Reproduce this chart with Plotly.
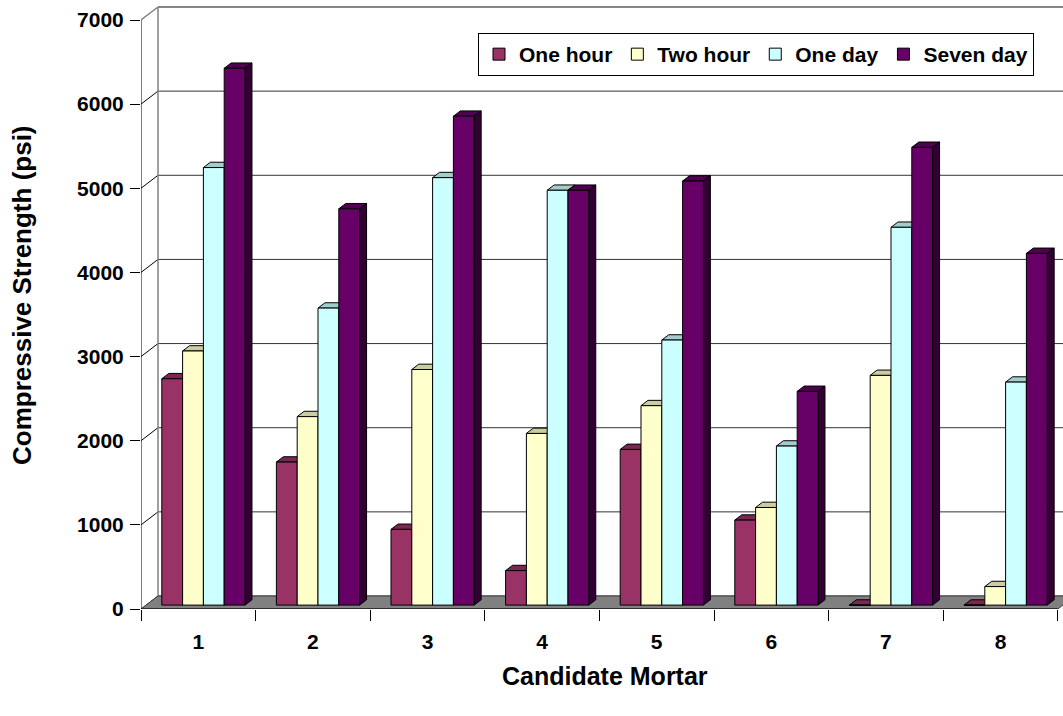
import plotly.graph_objects as go

# ---- data -------------------------------------------------------------
mortars = [1, 2, 3, 4, 5, 6, 7, 8]
series_names = ["One hour", "Two hour", "One day", "Seven day"]
one_hour = [2690, 1700, 900, 410, 1850, 1010, 0, 0]
two_hour = [3020, 2240, 2800, 2040, 2370, 1160, 2730, 220]
one_day = [5200, 3530, 5080, 4930, 3150, 1890, 4490, 2650]
seven_day = [6380, 4710, 5810, 4930, 5040, 2540, 5440, 4180]
y_ticks = [0, 1000, 2000, 3000, 4000, 5000, 6000, 7000]

series_values = [one_hour, two_hour, one_day, seven_day]
front_colors = ["#993366", "#FFFFCC", "#CCFFFF", "#660066"]

# ---- geometry of the pseudo-3D box -----------------------------------
FIG_W, FIG_H = 1063, 716
M_L, M_R, M_T, M_B = 141, 0, 5, 107
PLOT_W = FIG_W - M_L - M_R
PLOT_H = FIG_H - M_T - M_B
PX_PER_CAT = 114.6               # pixels per category
PX_PER_PSI = 589.0 / 7000.0      # pixels per psi
X_RANGE = [0.5, 0.5 + PLOT_W / PX_PER_CAT]
Y_RANGE = [0, PLOT_H / PX_PER_PSI]

WALL_DX = 17 / PX_PER_CAT        # depth of the box, in x units
WALL_DY = 13 / PX_PER_PSI        # depth of the box, in y units
BAR_Z0 = 0.30                    # depth fraction of the bar fronts
BAR_DEPTH = 0.41                 # depth of each bar, as fraction of box
BAR_W = 20.8 / PX_PER_CAT

BASE = BAR_Z0 * WALL_DY
SHIFT = BAR_Z0 * WALL_DX
BDX = BAR_DEPTH * WALL_DX
BDY = BAR_DEPTH * WALL_DY

FONT = "Liberation Sans, Arial, sans-serif"


def shade(hex_color, f):
    h = hex_color.lstrip("#")
    r, g, b = (int(h[i:i + 2], 16) for i in (0, 2, 4))
    return "#%02x%02x%02x" % (int(r * f), int(g * f), int(b * f))


fig = go.Figure()

# ---- tops and sides of the bars (painted back-to-front per group) ----
for k, (name, vals, col) in enumerate(zip(series_names, series_values, front_colors)):
    tx, ty, sx, sy = [], [], [], []
    for c, v in zip(mortars, vals):
        left = c - 2 * BAR_W + k * BAR_W + SHIFT
        right = left + BAR_W
        top = BASE + v
        tx += [left, right, right + BDX, left + BDX, left, None]
        ty += [top, top, top + BDY, top + BDY, top, None]
        sx += [right, right + BDX, right + BDX, right, right, None]
        sy += [BASE, BASE + BDY, top + BDY, top, BASE, None]
    fig.add_trace(go.Scatter(x=tx, y=ty, mode="lines", fill="toself",
                             fillcolor=shade(col, 0.8),
                             line=dict(color="black", width=1),
                             hoverinfo="skip", showlegend=False))
    fig.add_trace(go.Scatter(x=sx, y=sy, mode="lines", fill="toself",
                             fillcolor=shade(col, 0.5),
                             line=dict(color="black", width=1),
                             hoverinfo="skip", showlegend=False))

# ---- bar fronts (on an overlay axis so they sit above tops/sides) ----
for k, (name, vals, col) in enumerate(zip(series_names, series_values, front_colors)):
    fig.add_trace(go.Bar(
        x=mortars, y=vals, base=BASE, name=name,
        width=BAR_W, offset=-2 * BAR_W + k * BAR_W + SHIFT,
        marker=dict(color=col, line=dict(color="black", width=1)),
        xaxis="x2", yaxis="y2",
    ))

# ---- walls, floor and grid --------------------------------------------
shapes = []
x_back = X_RANGE[0] + WALL_DX
for t in y_ticks:
    # gridline on the back wall
    shapes.append(dict(type="line", xref="x", yref="y", layer="below",
                       x0=x_back, x1=X_RANGE[1] + 1, y0=t + WALL_DY, y1=t + WALL_DY,
                       line=dict(color="#333333", width=1)))
    # connector across the side wall
    if t < y_ticks[-1]:
        shapes.append(dict(type="line", xref="x", yref="y", layer="below",
                           x0=X_RANGE[0], x1=x_back, y0=t, y1=t + WALL_DY,
                           line=dict(color="black", width=1)))

top_v = y_ticks[-1]
# outline of the back / side walls
shapes.append(dict(type="line", xref="x", yref="y", layer="below",
                   x0=x_back, x1=x_back, y0=WALL_DY, y1=top_v + WALL_DY,
                   line=dict(color="#808080", width=1.5)))
shapes.append(dict(type="line", xref="x", yref="y", layer="below",
                   x0=X_RANGE[0], x1=x_back, y0=top_v, y1=top_v + WALL_DY,
                   line=dict(color="#808080", width=1.5)))
shapes.append(dict(type="line", xref="x", yref="y", layer="below",
                   x0=x_back, x1=X_RANGE[1] + 1, y0=top_v + WALL_DY, y1=top_v + WALL_DY,
                   line=dict(color="#808080", width=1.5)))
# floor
x_end = mortars[-1] + 0.5
shapes.append(dict(type="path", xref="x", yref="y", layer="below",
                   path=f"M {X_RANGE[0]},0 L {x_end},0 L {x_end + WALL_DX},{WALL_DY} "
                        f"L {x_back},{WALL_DY} Z",
                   fillcolor="#808080", line=dict(color="#404040", width=1)))
# front axis lines
shapes.append(dict(type="line", xref="x", yref="y", layer="below",
                   x0=X_RANGE[0], x1=X_RANGE[0], y0=0, y1=top_v,
                   line=dict(color="black", width=1)))
shapes.append(dict(type="line", xref="x", yref="y", layer="below",
                   x0=X_RANGE[0], x1=x_end, y0=0, y1=0,
                   line=dict(color="black", width=1)))

tick_font = dict(family=FONT, size=21, color="black", weight="bold")

fig.update_layout(
    width=FIG_W, height=FIG_H,
    margin=dict(l=M_L, r=M_R, t=M_T, b=M_B, autoexpand=False),
    paper_bgcolor="white", plot_bgcolor="white",
    barmode="overlay",
    shapes=shapes,
    xaxis=dict(range=X_RANGE, tickmode="array", tickvals=mortars,
               ticktext=[str(m) for m in mortars], ticks="",
               showgrid=False, zeroline=False, showline=False,
               tickfont=tick_font, ticklabelstandoff=18,
               minor=dict(tickmode="array",
                          tickvals=[m - 0.5 for m in mortars] + [mortars[-1] + 0.5],
                          ticks="outside", ticklen=11, tickcolor="black",
                          tickwidth=1, showgrid=False)),
    yaxis=dict(range=Y_RANGE, tickmode="array", tickvals=y_ticks,
               ticks="outside", ticklen=10, tickcolor="black", tickwidth=1,
               showgrid=False, zeroline=False, showline=False,
               tickfont=tick_font, ticklabelstandoff=2),
    xaxis2=dict(range=X_RANGE, overlaying="x", visible=False),
    yaxis2=dict(range=Y_RANGE, overlaying="y", visible=False),
    legend=dict(orientation="h", x=(478 - M_L) / PLOT_W, y=(609 - 33) / PLOT_H,
                xanchor="left", yanchor="top",
                bgcolor="white", bordercolor="black", borderwidth=1,
                font=dict(family=FONT, size=21, color="black", weight="bold"),
                itemwidth=30, tracegroupgap=0),
    annotations=[
        dict(text="Candidate Mortar", xref="paper", yref="paper",
             x=(605 - M_L) / PLOT_W, y=(609 - 676) / PLOT_H,
             xanchor="center", yanchor="middle", showarrow=False,
             font=dict(family=FONT, size=25, color="black", weight="bold")),
        dict(text="Compressive Strength (psi)", xref="paper", yref="paper",
             x=(22 - M_L) / PLOT_W, y=(609 - 295) / PLOT_H, textangle=-90,
             xanchor="center", yanchor="middle", showarrow=False,
             font=dict(family=FONT, size=26, color="black", weight="bold")),
    ],
)

fig.write_html("out.html")
